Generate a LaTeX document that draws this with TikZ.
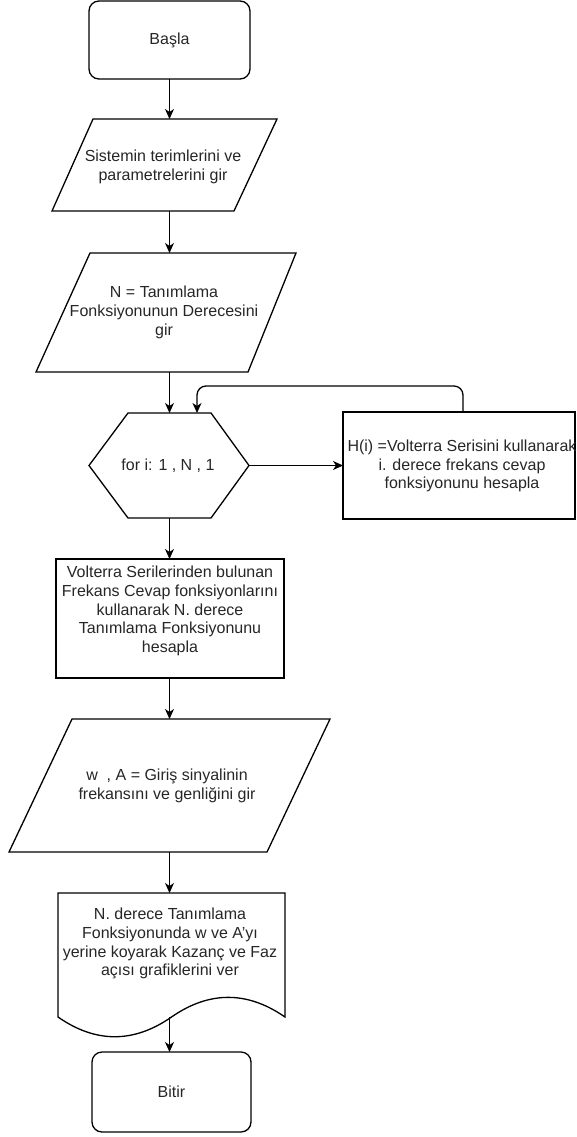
\documentclass[tikz,border=0pt]{standalone}
\usepackage{fontspec}
\setmainfont{Liberation Sans}
\usetikzlibrary{arrows.meta}
\tikzset{
  x=1pt, y=-1pt,
  line/.style={draw=black, line width=1.3pt, line join=miter},
  arr/.style={line, -{Stealth[length=10pt,width=9pt,inset=3pt]}},
  boxarea/.style={draw=none, inner sep=0pt, outer sep=0pt, rectangle},
  txt/.style={inner sep=0pt, align=center, text=black!85, font=\fontsize{16pt}{18.8pt}\selectfont},
}
\begin{document}
\begin{tikzpicture}
\useasboundingbox (0,0) rectangle (577,1137);
% shape areas
\node[boxarea, minimum width=161pt, minimum height=78pt] (start) at (169.5,40) {};
\node[boxarea, minimum width=225pt, minimum height=92pt] (in1) at (164.5,165) {};
\node[boxarea, minimum width=260pt, minimum height=119pt] (in2) at (166,312.5) {};
\node[boxarea, minimum width=160pt, minimum height=105pt] (hex) at (169,465.5) {};
\node[boxarea, minimum width=232pt, minimum height=107pt] (hbox) at (459,465.5) {};
\node[boxarea, minimum width=228pt, minimum height=119pt] (calc) at (170,618.5) {};
\node[boxarea, minimum width=321pt, minimum height=133pt] (in3) at (169.5,785.5) {};
\node[boxarea, minimum width=227pt, minimum height=124pt] (doc) at (171.5,955) {};
\node[boxarea, minimum width=159pt, minimum height=80pt] (endn) at (171.5,1092) {};
% outlines
\draw[line, rounded corners=10pt] (start.north west) rectangle (start.south east);
\draw[line] ([xshift=41pt]in1.north west) -- (in1.north east) -- ([xshift=-43pt]in1.south east) -- (in1.south west) -- cycle;
\draw[line] ([xshift=54pt]in2.north west) -- (in2.north east) -- ([xshift=-48pt]in2.south east) -- (in2.south west) -- cycle;
\draw[line] ([xshift=39pt]hex.north west) -- ([xshift=-38pt]hex.north east) -- (hex.east) -- ([xshift=-38pt]hex.south east) -- ([xshift=39pt]hex.south west) -- (hex.west) -- cycle;
\draw[line] (hbox.north west) rectangle (hbox.south east);
\draw[line] (calc.north west) rectangle (calc.south east);
\draw[line] ([xshift=63pt]in3.north west) -- (in3.north east) -- ([xshift=-63pt]in3.south east) -- (in3.south west) -- cycle;
\draw[line] (doc.south west) -- (doc.north west) -- (doc.north east) -- (doc.south east)
  .. controls (247.2,990.8) and (209.3,990.8) .. (171.5,1017)
  .. controls (133.7,1043.3) and (95.8,1043.3) .. (doc.south west) -- cycle;
\draw[line, rounded corners=10pt] (endn.north west) rectangle (endn.south east);
% texts
\node[txt] (t0) at (169.5,40) {Başla};
\node[txt] (t1) at (163,167) {Sistemin terimlerini ve\\parametrelerini gir};
\node[txt] (t2) at (164,312.5) {N = Tanımlama\\Fonksiyonunun Derecesini\\gir};
\node[txt] (t3) at (168,466) {for i: 1 , N , 1};
\node[txt] (t4) at (462,466) {H(i) =Volterra Serisini kullanarak\\i. derece frekans cevap\\fonksiyonunu hesapla};
\node[txt] (t5) at (170,611) {Volterra Serilerinden bulunan\\Frekans Cevap fonksiyonlarını\\kullanarak N. derece\\Tanımlama Fonksiyonunu\\hesapla};
\node[txt] (t6) at (167,786) {w\ \ , A = Giriş sinyalinin\\frekansını ve genliğini gir};
\node[txt] (t7) at (170,943.5) {N. derece Tanımlama\\Fonksiyonunda w ve A\char"0027 yı\\yerine koyarak Kazanç ve Faz\\açısı grafiklerini ver};
\node[txt] (t8) at (171.5,1092) {Bitir};
% connectors
\draw[arr] (start.south) -- (start.south |- in1.north);
\draw[arr] (start.south |- in1.south) -- (start.south |- in2.north);
\draw[arr] (start.south |- in2.south) -- (start.south |- hex.north);
\draw[arr] (hex.east) -- (hbox.west);
\draw[arr, rounded corners=9pt] ([xshift=4pt]hbox.north) -- ++(0,-26) -| ([xshift=28pt]hex.north);
\draw[arr] (start.south |- hex.south) -- (start.south |- calc.north);
\draw[arr] (start.south |- calc.south) -- (start.south |- in3.north);
\draw[arr] (start.south |- in3.south) -- (start.south |- doc.north);
\draw[arr] (start.south |- doc.south) -- (start.south |- endn.north);
\end{tikzpicture}
\end{document}
